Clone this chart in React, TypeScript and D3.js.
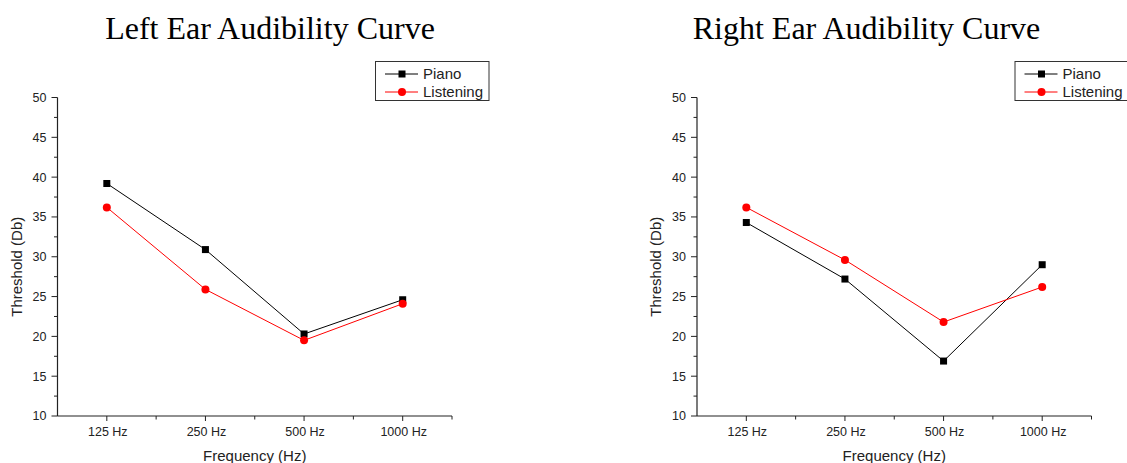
import React from 'react'
import * as d3 from 'd3'

const categories = ['125 Hz', '250 Hz', '500 Hz', '1000 Hz']
const yTicks = [10, 15, 20, 25, 30, 35, 40, 45, 50]

const leftPiano = [39.2, 30.9, 20.3, 24.6]
const leftListening = [36.2, 25.9, 19.5, 24.1]
const rightPiano = [34.3, 27.2, 16.9, 29.0]
const rightListening = [36.2, 29.6, 21.8, 26.2]

const FONT = '"Liberation Sans", Arial, sans-serif'

const Panel = ({ ox, title, titleX, piano, listening }) => {
  // plot area
  const x0 = 57.5, x1 = 452, yTop = 97.5, yBot = 416
  const x = d3.scaleLinear().domain([0.5, 4.5]).range([x0, x1])
  const y = d3.scaleLinear().domain([10, 50]).range([yBot, yTop])
  const line = d3.line().x((d, i) => x(i + 1)).y(d => y(d))
  const minorY = d3.range(12.5, 50, 5)
  const minorX = [1.5, 2.5, 3.5, 4.5]

  return (
    <g transform={`translate(${ox},0)`}>
      <text x={titleX} y={39} textAnchor="middle"
        style={{ fontFamily: '"Liberation Serif", "Times New Roman", serif', fontSize: 32 }}>{title}</text>

      {/* y axis */}
      <line x1={x0} x2={x0} y1={yTop} y2={yBot} stroke="#222" strokeWidth={1.2} />
      {yTicks.map(t => (
        <g key={t}>
          <line x1={x0 - 6} x2={x0} y1={y(t)} y2={y(t)} stroke="#222" />
          <text x={x0 - 11} y={y(t)} dy="0.35em" textAnchor="end"
            style={{ fontFamily: FONT, fontSize: 12.5 }} fill="#222">{t}</text>
        </g>
      ))}
      {minorY.map(t => (
        <line key={t} x1={x0 - 3.5} x2={x0} y1={y(t)} y2={y(t)} stroke="#222" />
      ))}

      {/* x axis */}
      <line x1={x0} x2={x1} y1={yBot} y2={yBot} stroke="#222" strokeWidth={1.2} />
      {categories.map((c, i) => (
        <g key={c}>
          <line x1={x(i + 1)} x2={x(i + 1)} y1={yBot} y2={yBot + 5} stroke="#222" />
          <text x={x(i + 1) + 1} y={yBot + 16} dy="0.35em" textAnchor="middle"
            style={{ fontFamily: FONT, fontSize: 12.5 }} fill="#222">{c}</text>
        </g>
      ))}
      {minorX.map(t => (
        <line key={t} x1={x(t)} x2={x(t)} y1={yBot} y2={yBot + 3.5} stroke="#222" />
      ))}

      <text x={(x0 + x1) / 2} y={456} dy="0.35em" textAnchor="middle"
        style={{ fontFamily: FONT, fontSize: 15 }} fill="#222">Frequency (Hz)</text>
      <text transform={`translate(16.5,${(yTop + yBot) / 2 + 10}) rotate(-90)`} dy="0.35em" textAnchor="middle"
        style={{ fontFamily: FONT, fontSize: 15 }} fill="#222">Threshold (Db)</text>

      {/* series */}
      <path d={line(piano)} fill="none" stroke="#000" strokeWidth={1} />
      {piano.map((v, i) => (
        <rect key={i} x={x(i + 1) - 3.5} y={y(v) - 3.5} width={7} height={7} fill="#000" />
      ))}
      <path d={line(listening)} fill="none" stroke="#ff0000" strokeWidth={1} />
      {listening.map((v, i) => (
        <circle key={i} cx={x(i + 1)} cy={y(v)} r={4} fill="#ff0000" />
      ))}

      {/* legend */}
      <g>
        <rect x={375.5} y={61.5} width={113.5} height={39} fill="#fff" stroke="#333" />
        <line x1={385} x2={418} y1={74} y2={74} stroke="#000" />
        <rect x={398.5} y={70.5} width={7} height={7} fill="#000" />
        <text x={423} y={74} dy="0.35em" style={{ fontFamily: FONT, fontSize: 15 }} fill="#222">Piano</text>
        <line x1={385} x2={418} y1={92} y2={92} stroke="#ff0000" />
        <circle cx={402} cy={92} r={4} fill="#ff0000" />
        <text x={423} y={92} dy="0.35em" style={{ fontFamily: FONT, fontSize: 15 }} fill="#222">Listening</text>
      </g>
    </g>
  )
}

export default function App() {
  return (
    <svg width={1127} height={463} style={{ position: 'absolute', left: 0, top: 0, background: '#fff' }}>
      <Panel ox={0} title="Left Ear Audibility Curve" titleX={270} piano={leftPiano} listening={leftListening} />
      <Panel ox={639.5} title="Right Ear Audibility Curve" titleX={227} piano={rightPiano} listening={rightListening} />
    </svg>
  )
}
